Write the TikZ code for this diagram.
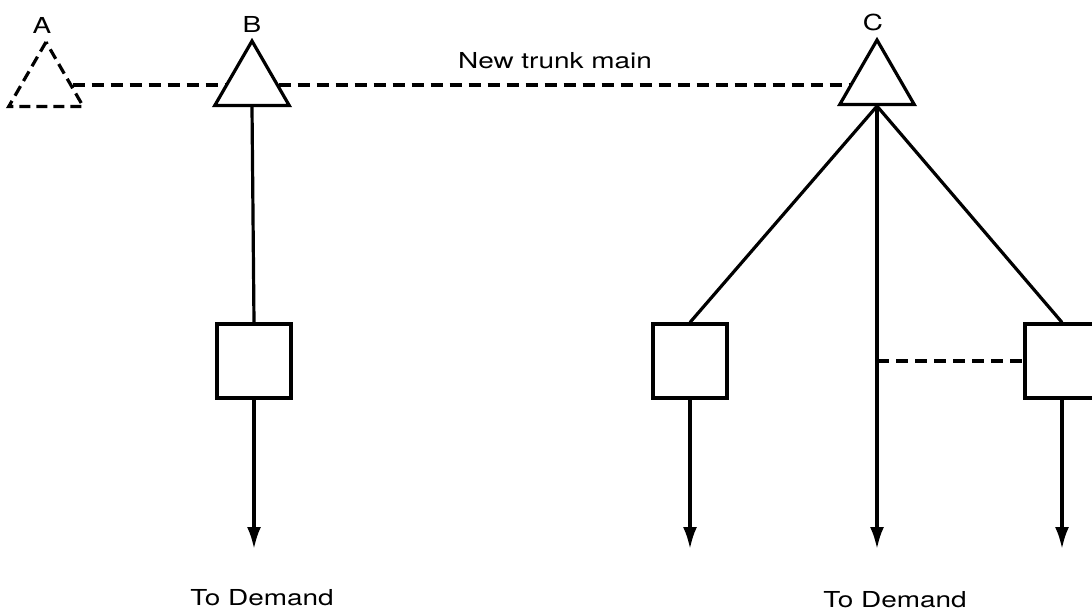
\documentclass[tikz,border=0pt]{standalone}
\usepackage{fontspec}
\setmainfont{TeX Gyre Heros}[FakeStretch=1.27]
\usetikzlibrary{positioning,shapes.geometric,arrows.meta}

\tikzstyle{tank}=[regular polygon,regular polygon sides=3,draw,fill=white,line width=3.2pt,minimum size=86pt,inner sep=0pt]
\tikzstyle{newtank}=[tank,dash pattern=on 11pt off 6pt]
\tikzstyle{works}=[rectangle,draw,fill=white,line width=3.2pt,minimum size=74pt,inner sep=0pt]
\tikzstyle{pipe}=[line width=3.2pt]
\tikzstyle{supply}=[pipe,-{Latex[length=22pt,width=14pt]}]
\tikzstyle{trunk}=[pipe,dash pattern=on 12pt off 7pt]

\begin{document}
\begin{tikzpicture}[x=1pt,y=-1pt,every node/.style={font=\fontsize{22}{26}\selectfont}]
		\useasboundingbox (0,0) rectangle (1092,611);
		\node[newtank] (A) at (46,85) {};
		\node[tank] (B) at (252,84) {};
		\node[tank] (C) at (877,83) {};
		\node[above=2pt of A.north,xshift=-4pt] (labA) {A};
		\node[above=2pt of B.north] (labB) {B};
		\node[above=2pt of C.north,xshift=-4pt] (labC) {C};
		% the new trunk main
		\draw[trunk] (A.east) -- (A.east -| B.west);
		\draw[trunk] (A.east -| B.east) -- (A.east -| C.west);
		\node[anchor=base] (trunklabel) at (555,68) {New trunk main};
		% the treatment works
		\node[works] (boxB) at (254,361) {};
		\node[works] (boxL) at (690,361) {};
		\node[works] (boxR) at (1062,361) {};
		\coordinate (outB) at (254,549);
		\coordinate (outL) at (690,549);
		\coordinate (outC) at (877,549);
		\coordinate (outR) at (1062,549);
		\coordinate (tap) at (877,361);
		\draw[pipe] (B.south) -- (boxB.north);
		\draw[pipe] (C.south) -- (boxL.north);
		\draw[pipe] (C.south) -- (boxR.north);
		\draw[supply] (C.south) -- (outC);
		\draw[trunk] (tap) -- (boxR.west);
		\draw[supply] (boxB.south) -- (outB);
		\draw[supply] (boxL.south) -- (outL);
		\draw[supply] (boxR.south) -- (outR);
		\node[anchor=base] (demandB) at (262,605) {To Demand};
		\node[anchor=base] (demandC) at (895,607) {To Demand};
\end{tikzpicture}
\end{document}
